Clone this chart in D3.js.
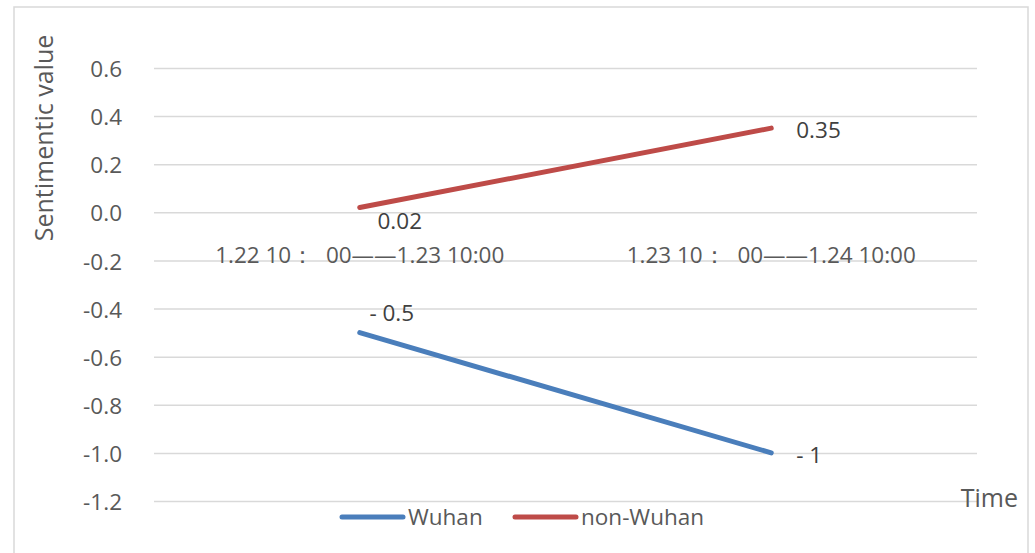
<!DOCTYPE html>
<html><head><meta charset="utf-8">
<script src="https://cdn.jsdelivr.net/npm/d3@7"></script>
<style>body{margin:0;background:#fff;} text{font-family:"Open Sans","Noto Sans",sans-serif;}</style>
</head><body><svg id="c" width="1035" height="553"></svg>
<script>
const categories = ["1.22 10：  00——1.23 10:00", "1.23 10：  00——1.24 10:00"];
const wuhan = [-0.5, -1];
const nonWuhan = [0.02, 0.35];
const wuhanLabels = ["- 0.5", "- 1"];
const nonWuhanLabels = ["0.02", "0.35"];
const yTicks = [0.6, 0.4, 0.2, 0.0, -0.2, -0.4, -0.6, -0.8, -1.0, -1.2];
const seriesNames = ["Wuhan", "non-Wuhan"];
const colors = ["#4a7ebb", "#be4b48"];

(function(){
const svg = d3.select("#c");
const pL = 154, pR = 977, pT = 68, pB = 501;
const fs = "22.5px";
svg.append("rect").attr("x",14).attr("y",7).attr("width",1014).attr("height",560)
  .attr("fill","none").attr("stroke","#d9d9d9").attr("stroke-width",1.5);

const x = d3.scaleBand().domain(categories).range([pL,pR]);
const y = d3.scaleLinear().domain([-1.2,0.6]).range([pB,pT]);

const ax = svg.append("g").attr("transform",`translate(${pL},0)`)
  .call(d3.axisLeft(y).tickValues(yTicks).tickFormat(d=>d3.format(".1f")(d).replace("\u2212","-")).tickSize(-(pR-pL)).tickPadding(32));
ax.select(".domain").remove();
ax.selectAll(".tick line").attr("stroke","#d9d9d9").attr("stroke-width",1.5);
ax.selectAll(".tick text").attr("fill","#595959").style("font-size",fs).attr("dy","0.38em");

svg.selectAll(".cat").data(categories).enter().append("text")
  .attr("x",d=>x(d)+x.bandwidth()/2).attr("y",263).attr("text-anchor","middle")
  .attr("fill","#595959").style("font-size",fs).style("white-space","pre").attr("xml:space","preserve").text(d=>d);

const cx = i => x(categories[i])+x.bandwidth()/2;
const line = d3.line().x((d,i)=>cx(i)).y(d=>y(d));
[wuhan, nonWuhan].forEach((s,k)=>{
  svg.append("path").datum(s).attr("d",line).attr("fill","none")
    .attr("stroke",colors[k]).attr("stroke-width",5).attr("stroke-linecap","round");
});

const lab = (px, py, anchor, t) => svg.append("text").attr("x",px).attr("y",py).attr("text-anchor",anchor)
  .attr("fill","#404040").style("font-size",fs).style("white-space","pre").text(t);
lab(cx(0)+40, y(nonWuhan[0])+21, "middle", nonWuhanLabels[0]);
lab(cx(1)+25, y(nonWuhan[1])+10, "start", nonWuhanLabels[1]);
lab(cx(0)+32, y(wuhan[0])-12, "middle", wuhanLabels[0]);
lab(cx(1)+25, y(wuhan[1])+10, "start", wuhanLabels[1]);

svg.append("text").attr("transform","translate(53,138) rotate(-90)").attr("text-anchor","middle")
  .attr("fill","#595959").style("font-size","25px").text("Sentimentic value");
svg.append("text").attr("x",1018).attr("y",507).attr("text-anchor","end")
  .attr("fill","#595959").style("font-size","25px").text("Time");

const lgx = [342, 515];
seriesNames.forEach((n,k)=>{
  svg.append("line").attr("x1",lgx[k]).attr("x2",lgx[k]+61).attr("y1",517).attr("y2",517)
    .attr("stroke",colors[k]).attr("stroke-width",5).attr("stroke-linecap","round");
  svg.append("text").attr("x",lgx[k]+66).attr("y",525).attr("fill","#595959")
    .style("font-size",fs).text(n);
});
})();
</script></body></html>
